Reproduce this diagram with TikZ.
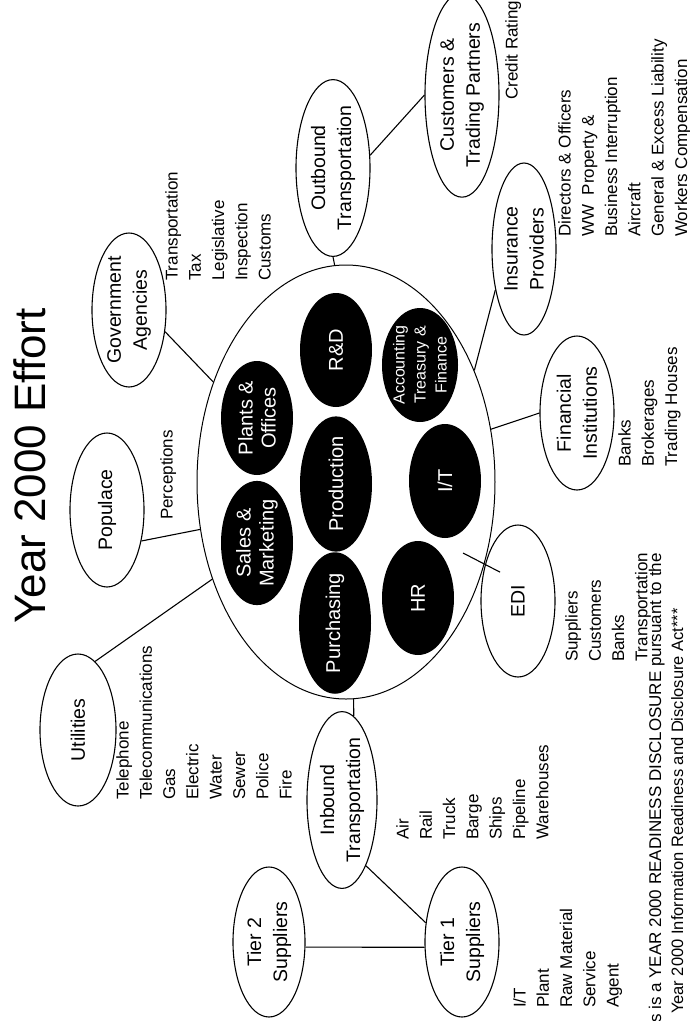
\documentclass[tikz,border=0pt]{standalone}
\usepackage{fontspec}
\setmainfont{Liberation Sans}
\usetikzlibrary{shapes.geometric, calc}

\begin{document}
\begin{tikzpicture}[
    x=1pt, y=-1pt,
    bubble/.style={ellipse, draw, line width=1.1pt, rotate=90, inner sep=0pt, minimum width=154pt, minimum height=74pt, align=center, font=\fontsize{19.5}{26}\selectfont},
    dept/.style={ellipse, fill=black, rotate=90, inner sep=0pt, minimum width=114pt, minimum height=72pt, align=center, text=white, font=\fontsize{20}{23}\selectfont},
    items/.style={rotate=90, anchor=north west, inner sep=0pt, align=left, font=\fontsize{17}{23.3}\selectfont},
    link/.style={line width=1.1pt}
]
    \useasboundingbox (0,0) rectangle (690,1021);

    % --- TITLE ---
    \node (title) [rotate=90, font=\fontsize{44}{50}\selectfont] at (30,466) {Year 2000 Effort};

    % --- CORE ---
    \node (core) [ellipse, draw, line width=1pt, minimum width=298pt, minimum height=434pt] at (346,482) {};

    \node (sales) [dept] at (257,543) {Sales \&\\Marketing};
    \node (plants) [dept] at (257,418) {Plants \&\\Offices};
    \node (purchasing) [dept] at (335,623) {Purchasing};
    \node (production) [dept] at (336,484) {Production};
    \node (rnd) [dept] at (336,350) {R\&D};
    \node (finance) [dept, font=\fontsize{16}{21}\selectfont] at (420,365) {Accounting\\Treasury \&\\Finance};
    \node (it) [dept] at (445,481) {I/T};
    \node (hr) [dept] at (418,598) {HR};

    % --- OUTER PARTIES ---
    \node (utilities) [bubble, minimum height=76pt, minimum width=152pt] at (78,730) {Utilities};
    \node (populace) [bubble] at (107,510) {Populace};
    \node (government) [bubble] at (129,310) {Government\\Agencies};
    \node (outbound) [bubble, minimum width=152pt] at (333,168) {Outbound\\Transportation};
    \node (customers) [bubble, minimum width=156pt] at (462,95) {Customers \&\\Trading Partners};
    \node (insurance) [bubble, minimum width=172pt, minimum height=64pt] at (524,249) {Insurance\\Providers};
    \node (financial) [bubble] at (577,413) {Financial\\Institutions};
    \node (edi) [bubble, minimum width=152pt] at (518,601) {EDI};
    \node (inbound) [bubble, minimum height=70pt] at (342,800) {Inbound\\Transportation};
    \node (tier_two) [bubble, minimum width=150pt, minimum height=72pt] at (269,942) {Tier 2\\Suppliers};
    \node (tier_one) [bubble, minimum width=150pt] at (462,942) {Tier 1\\Suppliers};

    % --- LISTS ---
    \node (utilities_list) [items] at (116,800) {Telephone\\Telecommunications\\Gas\\Electric\\Water\\Sewer\\Police\\Fire};
    \node (populace_list) [items] at (160,520) {Perceptions};
    \node (government_list) [items] at (165,281) {Transportation\\Tax\\Legislative\\Inspection\\Customs};
    \node (customers_list) [items] at (505,100) {Credit Rating};
    \node (insurance_list) [items] at (558,237) {Directors \& Officers\\WW\ \ Property \&\\Business Interruption\\Aircraft\\General \& Excess Liability\\Workers Compensation};
    \node (financial_list) [items] at (618,467) {Banks\\Brokerages\\Trading Houses};
    \node (edi_list) [items] at (565,662) {Suppliers\\Customers\\Banks\\Transportation};
    \node (inbound_list) [items] at (396,840) {Air\\Rail\\Truck\\Barge\\Ships\\Pipeline\\Warehouses};
    \node (tier_one_list) [items] at (513,1008) {I/T\\Plant\\Raw Material\\Service\\Agent};

    % --- DISCLOSURE ---
    \node (disclosure_a) [rotate=90, anchor=base east, inner sep=0pt, font=\fontsize{17}{20}\selectfont] at (661,553) {s is a YEAR 2000 READINESS DISCLOSURE pursuant to the};
    \node (disclosure_b) [rotate=90, anchor=base east, inner sep=0pt, font=\fontsize{16.5}{20}\selectfont] at (683,608) {Year 2000 Information Readiness and Disclosure Act***};

    % --- LINKS ---
    \coordinate (edi_tip) at (463,553);
    \draw [link] (utilities.-14) -- (core.216);
    \draw [link] (populace.-132) -- (core.198);
    \draw [link] (government.-121) -- (core.143);
    \draw [link] (outbound.180) -- (core.93);
    \draw [link] (outbound.-71) -- (customers.north);
    \draw [link] (insurance.145) -- (core.41);
    \draw [link] (financial.north) -- (core.20);
    \draw [link, shorten >=-17pt] (edi_tip) -- (edi.42);
    \draw [link] (core.272) -- (inbound.-8);
    \draw [link] (inbound.-160) -- (tier_one.62);
    \draw [link] (tier_two.-98) -- (tier_one.98);

\end{tikzpicture}
\end{document}
